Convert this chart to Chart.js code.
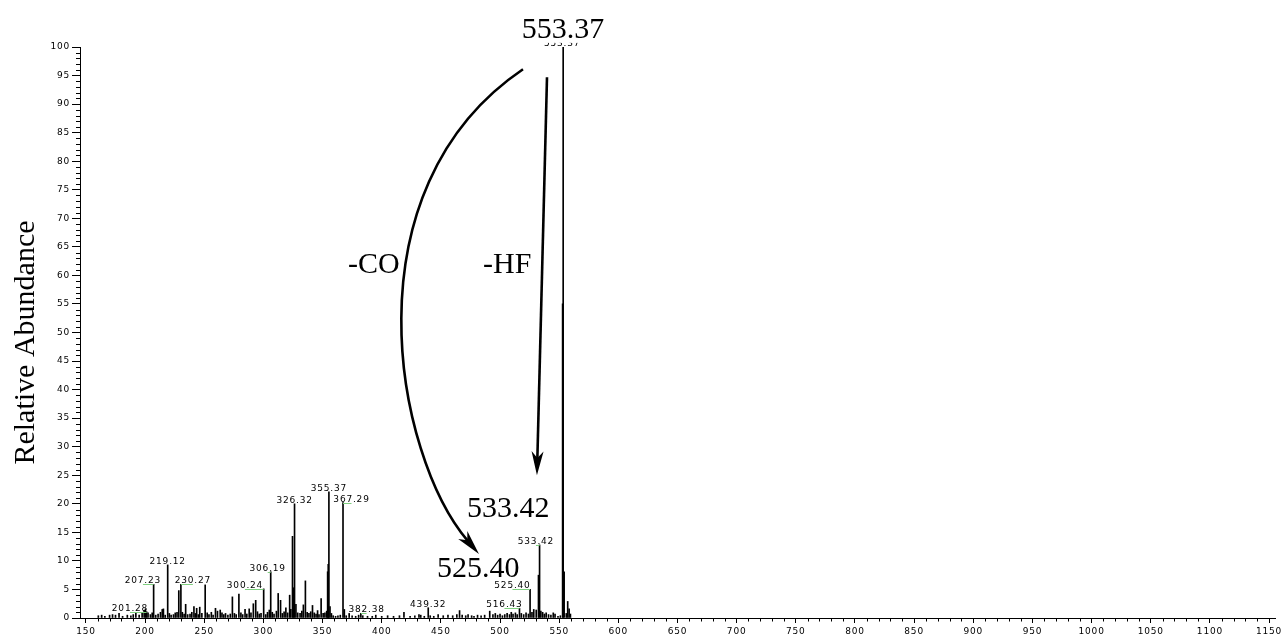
<!DOCTYPE html>
<html><head><meta charset="utf-8">
<script src="https://cdn.jsdelivr.net/npm/chart.js@4.4.1/dist/chart.umd.min.js"></script>
<style>html,body{margin:0;padding:0;background:#fff;}canvas{display:block;}</style>
</head><body>
<canvas id="c" width="1281" height="635"></canvas>
<script>
// ---- data ----
const peakMz = [160.5,163.3,166.0,170.0,172.5,175.0,178.0,181.0,185.0,188.0,190.0,192.2,195.0,197.5,199.2,200.3,201.28,202.5,204.5,206.0,
207.23,209.0,211.0,213.0,214.5,215.5,217.0,219.12,220.5,222.0,224.0,225.5,227.0,228.5,230.27,231.5,233.0,234.3,236.0,238.0,
239.5,241.3,242.5,243.6,245.0,246.2,248.0,250.8,252.5,254.0,256.0,257.5,259.5,261.2,263.5,265.0,266.5,268.0,270.0,272.0,
273.8,275.5,277.0,279.3,281.0,282.5,284.5,286.0,288.0,289.5,291.5,293.5,295.0,296.5,298.0,300.24,302.0,303.5,305.0,306.19,
307.5,309.0,311.0,312.5,314.5,316.0,317.5,319.0,320.5,322.2,323.2,324.6,325.4,326.32,327.5,329.0,331.0,332.5,333.8,335.5,
337.0,338.5,340.0,341.5,343.0,344.5,345.8,347.0,348.8,350.5,352.0,353.5,354.3,354.8,355.37,356.3,357.5,359,361,363,
365,367.29,368.4,370,372.5,375,378,380.5,382.38,384,388,392,395,400,405,410,415,418.8,424,428,
431.5,433,436,439.32,441,444,447.7,452,456,460,463.5,465.8,468,471,473,476,478,481,484,487,
491.3,494,496,498,500,502,504,506,508,509.5,511,513,514.5,516.43,518,520,522,524,525.40,527,
528.5,530.6,532.5,533.42,534.5,536,537.5,539,541,543,545,546.5,549,551,552.9,553.37,554.2,556,557.2,558.4,559.5];
const peakAbundance = [0.4,0.5,0.3,0.5,0.6,0.5,0.8,0.3,0.5,0.4,0.6,1.0,0.5,0.8,1.3,1.6,1.1,0.9,0.6,0.9,
5.9,0.5,0.7,1.0,1.5,1.6,0.5,9.3,0.8,0.5,0.6,0.9,1.0,4.8,5.9,1.0,0.7,2.4,0.6,0.7,
1.0,2.0,0.8,1.7,0.6,1.9,0.8,5.8,0.9,0.6,1.0,0.5,1.7,1.2,1.4,0.9,0.6,0.8,0.5,0.7,
3.7,0.8,0.6,4.2,0.9,0.6,1.5,0.7,1.6,0.9,2.5,3.1,1.1,0.7,0.8,5.1,0.6,1.0,1.4,8.1,
1.0,0.7,1.2,4.3,3.1,0.8,1.1,1.8,0.9,4.0,1.5,14.3,5.3,20.0,2.4,0.9,0.8,1.2,2.3,6.5,
1.0,0.8,1.1,2.2,0.9,0.7,1.3,0.6,3.4,0.8,0.9,1.2,8.1,9.4,22.1,2.0,0.8,0.4,0.3,0.4,
0.5,20.2,1.5,0.4,0.8,0.4,0.3,0.5,0.8,0.4,0.3,0.3,0.5,0.3,0.4,0.3,0.4,1.0,0.3,0.4,
0.6,0.5,0.3,1.8,0.4,0.3,0.6,0.4,0.5,0.4,0.6,1.3,0.5,0.4,0.6,0.4,0.3,0.5,0.4,0.5,
1.2,0.6,0.8,0.5,0.7,0.4,0.6,0.8,0.6,1.0,0.7,0.9,0.6,1.7,0.8,0.6,0.9,0.7,5.0,1.0,
1.5,1.4,7.5,12.8,1.2,1.0,0.7,0.9,0.6,0.5,0.9,0.7,0.3,0.4,55,100,8.1,0.8,2.9,1.6,0.7];
const labeledPeaks = ['201.28','207.23','219.12','230.27','300.24','306.19','326.32','355.37','367.29','382.38','439.32','516.43','525.40','533.42','553.37'];
const xTickValues = [150,200,250,300,350,400,450,500,550,600,650,700,750,800,850,900,950,1000,1050,1100,1150];
const yTickValues = [0,5,10,15,20,25,30,35,40,45,50,55,60,65,70,75,80,85,90,95,100];
const yAxisTitle = 'Relative Abundance';
const fragmentTexts = ['553.37','-CO','-HF','533.42','525.40'];

// ---- layout / style (not data) ----
const labelDxPx = [-16.6,-10.7,0,12,-18.7,-3,0,0,8.5,5.7,0,-15,-17.6,-3.6,-1];
// annotation anchors in data units (m/z, abundance)
const fragmentAnchors = [
  {x:553.2, y:101.6, align:'center', bg:true},
  {x:371.5, y:60.4, align:'left'},
  {x:485.6, y:60.4, align:'left'},
  {x:472.1, y:17.7, align:'left'},
  {x:446.7, y:7.2, align:'left'}
];
const curveArrow = [{x:519.4,y:96.1},{x:368.9,y:75.0},{x:411.2,y:28.5},{x:482.2,y:11.2}];
const straightArrow = [{x:539.7,y:94.7},{x:531.2,y:25.0}];

const SMALL_FONT = '9px "DejaVu Sans"';
const SERIF = '30px "Liberation Serif", "Times New Roman", serif';

function arrowHead(ctx, tip, d, L, W) {
  const nx = -d.y, ny = d.x;
  const bx = tip.x - d.x * L, by = tip.y - d.y * L;
  ctx.beginPath();
  ctx.moveTo(tip.x, tip.y);
  ctx.lineTo(bx + nx * W, by + ny * W);
  ctx.lineTo(tip.x - d.x * L * 0.72, tip.y - d.y * L * 0.72);
  ctx.lineTo(bx - nx * W, by - ny * W);
  ctx.closePath();
  ctx.fill();
}
function unit(a, b) { const dx = b.x - a.x, dy = b.y - a.y, l = Math.hypot(dx, dy); return {x: dx / l, y: dy / l}; }

const spectrumPlugin = {
  id: 'spectrum',
  beforeLayout(chart) { chart.ctx.letterSpacing = '0.8px'; },
  beforeDraw(chart) {
    const ctx = chart.ctx;
    ctx.save(); ctx.fillStyle = '#fff'; ctx.fillRect(0, 0, chart.width, chart.height); ctx.restore();
    ctx.letterSpacing = '0.8px';
  },
  afterDraw(chart) {
    const {ctx, chartArea: ca, scales: {x, y}} = chart;
    ctx.save();
    // minor ticks
    ctx.strokeStyle = '#000'; ctx.lineWidth = 1;
    ctx.beginPath();
    for (let v = 0; v <= 100; v++) {
      if (v % 5 === 0) continue;
      const py = Math.round(y.getPixelForValue(v)) + 0.5;
      ctx.moveTo(ca.left - 4, py); ctx.lineTo(ca.left + 0.5, py);
    }
    for (let v = 150; v <= 1150; v += 10) {
      if (v % 50 === 0) continue;
      const px = Math.round(x.getPixelForValue(v)) + 0.5;
      ctx.moveTo(px, ca.bottom); ctx.lineTo(px, ca.bottom + 3.5);
    }
    ctx.stroke();

    // peak labels
    ctx.font = SMALL_FONT; ctx.fillStyle = '#000'; ctx.textAlign = 'center'; ctx.textBaseline = 'alphabetic';
    ctx.letterSpacing = '0.8px';
    labeledPeaks.forEach((t, i) => {
      const m = parseFloat(t);
      let best = 0;
      peakMz.forEach((v, k) => { if (Math.abs(v - m) < Math.abs(peakMz[best] - m)) best = k; });
      const px = x.getPixelForValue(peakMz[best]);
      const top = y.getPixelForValue(peakAbundance[best]);
      const lx = px + labelDxPx[i];
      if (Math.abs(labelDxPx[i]) >= 2) {
        ctx.save(); ctx.strokeStyle = '#7fcf7f'; ctx.lineWidth = 1;
        ctx.beginPath(); ctx.moveTo(px, Math.round(top) + 0.5); ctx.lineTo(lx, Math.round(top) + 0.5); ctx.stroke();
        ctx.restore();
      }
      ctx.fillText(t, lx, top - 1);
    });

    // big fragment labels
    ctx.letterSpacing = '0px';
    ctx.font = SERIF;
    fragmentTexts.forEach((t, i) => {
      const a = fragmentAnchors[i];
      const px = x.getPixelForValue(a.x), py = y.getPixelForValue(a.y);
      ctx.textAlign = a.align;
      const w = ctx.measureText(t).width;
      const left = a.align === 'center' ? px - w / 2 : px;
      if (a.bg) {
        ctx.fillStyle = '#fff';
        ctx.fillRect(left - 2, py - 24, w + 4, 29);
      }
      ctx.fillStyle = '#000';
      ctx.fillText(t, px, py);
    });

    // arrows
    ctx.strokeStyle = '#000'; ctx.fillStyle = '#000'; ctx.lineWidth = 2.6; ctx.lineCap = 'butt';
    const cp = curveArrow.map(p => ({x: x.getPixelForValue(p.x), y: y.getPixelForValue(p.y)}));
    const dC = unit(cp[2], cp[3]);
    const endC = {x: cp[3].x - dC.x * 17, y: cp[3].y - dC.y * 17};
    ctx.beginPath(); ctx.moveTo(cp[0].x, cp[0].y);
    ctx.bezierCurveTo(cp[1].x, cp[1].y, cp[2].x, cp[2].y, endC.x, endC.y); ctx.stroke();
    arrowHead(ctx, cp[3], dC, 25, 6);
    const sp = straightArrow.map(p => ({x: x.getPixelForValue(p.x), y: y.getPixelForValue(p.y)}));
    const dS = unit(sp[0], sp[1]);
    ctx.beginPath(); ctx.moveTo(sp[0].x, sp[0].y);
    ctx.lineTo(sp[1].x - dS.x * 16, sp[1].y - dS.y * 16); ctx.stroke();
    arrowHead(ctx, sp[1], dS, 24, 6);

    // y-axis title
    ctx.font = SERIF; ctx.textAlign = 'center'; ctx.textBaseline = 'alphabetic';
    ctx.translate(34, (ca.top + ca.bottom) / 2 + 10);
    ctx.rotate(-Math.PI / 2);
    ctx.fillText(yAxisTitle, 0, 0);
    ctx.restore();
    ctx.letterSpacing = '0.8px';
  }
};

new Chart(document.getElementById('c'), {
  type: 'bar',
  data: {
    datasets: [{
      data: peakMz.map((m, i) => ({x: m, y: peakAbundance[i]})),
      backgroundColor: '#000',
      borderWidth: 0,
      barThickness: 1,
      grouped: false
    }]
  },
  options: {
    responsive: false,
    animation: false,
    events: [],
    layout: {padding: {top: 47, right: 6, left: 0, bottom: 0}},
    plugins: {legend: {display: false}, tooltip: {enabled: false}},
    scales: {
      x: {
        type: 'linear', min: 145, max: 1155, offset: false,
        afterBuildTicks: s => { s.ticks = xTickValues.map(v => ({value: v})); },
        afterFit: s => { s.height = 17; s.paddingLeft = 0; s.paddingRight = 0; },
        grid: {drawOnChartArea: false, offset: false, tickLength: 5, tickColor: '#000', tickWidth: 1},
        border: {display: true, color: '#000', width: 1},
        ticks: {color: '#000', font: {family: 'DejaVu Sans', size: 9}, padding: 3, maxRotation: 0, autoSkip: false,
                callback: v => String(v)}
      },
      y: {
        type: 'linear', min: 0, max: 100,
        afterBuildTicks: s => { s.ticks = yTickValues.map(v => ({value: v})); },
        afterFit: s => { s.width = 80; s.paddingTop = 0; s.paddingBottom = 0; },
        grid: {drawOnChartArea: false, tickLength: 8, tickColor: '#000', tickWidth: 1},
        border: {display: true, color: '#000', width: 1},
        ticks: {color: '#000', font: {family: 'DejaVu Sans', size: 9}, padding: 2, autoSkip: false,
                callback: v => String(v)}
      }
    }
  },
  plugins: [spectrumPlugin]
});
</script>
</body></html>
